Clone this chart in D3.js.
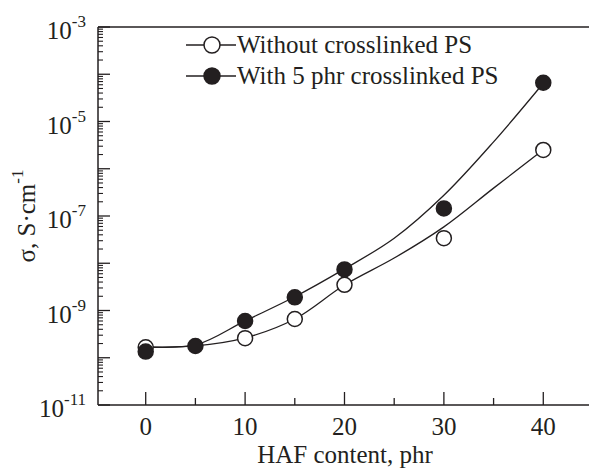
<!DOCTYPE html>
<html><head><meta charset="utf-8">
<script src="https://cdn.jsdelivr.net/npm/d3@7"></script>
<style>body{margin:0;background:#fff}svg{display:block}text{font-family:"Liberation Serif","Times New Roman",serif;fill:#231f20}</style>
</head><body><svg id="c" width="589" height="475"></svg>
<script>
// Data
const xWithout = [0, 10, 15, 20, 30, 40];
const yWithout = [1.66e-10, 2.6e-10, 6.6e-10, 3.5e-9, 3.4e-8, 2.5e-6];
const xWith = [0, 5, 10, 15, 20, 30, 40];
const yWith = [1.35e-10, 1.77e-10, 6.0e-10, 1.9e-9, 7.4e-9, 1.45e-7, 6.6e-5];
// fitted curves (log10 of sigma)
const fitX = [0, 5, 10, 15, 20, 25, 30, 35, 40];
const fitWithoutLog = [-9.77, -9.75, -9.58, -9.18, -8.46, -7.89, -7.23, -6.41, -5.60];
const fitWithLog = [-9.77, -9.73, -9.22, -8.71, -8.12, -7.47, -6.56, -5.43, -4.19];
const xTicks = [0, 10, 20, 30, 40];
const xMinor = [5, 15, 25, 35];
const yLabelExps = [-3, -5, -7, -9, -11];
const legendLabels = ["Without crosslinked PS", "With 5 phr crosslinked PS"];

const svg = d3.select("#c");
const x = d3.scaleLinear().domain([-4.8, 44.6]).range([98, 589]);
const y = d3.scaleLog().domain([1e-11, 1e-3]).range([405, 27]);
const ink = "#231f20";

// frame lines
svg.append("line").attr("x1",98).attr("x2",589).attr("y1",27).attr("y2",27).attr("stroke",ink).attr("stroke-width",1.5);
svg.append("line").attr("x1",98).attr("x2",589).attr("y1",405).attr("y2",405).attr("stroke",ink).attr("stroke-width",1.5);
svg.append("line").attr("x1",98).attr("x2",98).attr("y1",27).attr("y2",405).attr("stroke",ink).attr("stroke-width",1.5);

// y ticks
const yMajor = d3.range(-11, -2).map(e => Math.pow(10, e));
const yMinorVals = [];
for (let e = -11; e < -3; e++) for (let m = 2; m <= 9; m++) yMinorVals.push(m * Math.pow(10, e));
svg.append("g").selectAll("line").data(yMajor).join("line")
  .attr("x1",98).attr("x2",110).attr("y1",d=>y(d)).attr("y2",d=>y(d)).attr("stroke",ink).attr("stroke-width",1.3);
svg.append("g").selectAll("line").data(yMinorVals).join("line")
  .attr("x1",98).attr("x2",103).attr("y1",d=>y(d)).attr("y2",d=>y(d)).attr("stroke",ink).attr("stroke-width",1.1);

// y labels
const yl = svg.append("g").selectAll("text").data(yLabelExps).join("text")
  .attr("x",86).attr("y",d=>y(Math.pow(10,d))+12).attr("text-anchor","end").style("font-size","25px");
yl.append("tspan").text("10");
yl.append("tspan").attr("dy",-12).style("font-size","17px").text(d=>"-"+Math.abs(d));

// x ticks
svg.append("g").selectAll("line").data(xTicks).join("line")
  .attr("x1",d=>x(d)).attr("x2",d=>x(d)).attr("y1",405).attr("y2",392).attr("stroke",ink).attr("stroke-width",1.3);
svg.append("g").selectAll("line").data(xMinor).join("line")
  .attr("x1",d=>x(d)).attr("x2",d=>x(d)).attr("y1",405).attr("y2",398).attr("stroke",ink).attr("stroke-width",1.3);
svg.append("g").selectAll("text").data(xTicks).join("text")
  .attr("x",d=>x(d)).attr("y",435).attr("text-anchor","middle").style("font-size","25px").text(d=>d);

// axis titles
svg.append("text").attr("x",345).attr("y",463).attr("text-anchor","middle").style("font-size","25px").text("HAF content, phr");
const yt = svg.append("text").attr("transform","translate(35,216) rotate(-90)").attr("text-anchor","middle").style("font-size","25px");
yt.append("tspan").text("σ, S·cm");
yt.append("tspan").attr("dy",-12).style("font-size","17px").text("-1");

// fitted lines
const line = d3.line().x(d=>x(d[0])).y(d=>y(Math.pow(10,d[1]))).curve(d3.curveCatmullRom.alpha(0.5));
svg.append("path").attr("d", line(fitX.map((v,i)=>[v, fitWithoutLog[i]]))).attr("fill","none").attr("stroke",ink).attr("stroke-width",1.3);
svg.append("path").attr("d", line(fitX.map((v,i)=>[v, fitWithLog[i]]))).attr("fill","none").attr("stroke",ink).attr("stroke-width",1.3);

// markers
svg.append("g").selectAll("circle").data(xWithout.map((v,i)=>[v,yWithout[i]])).join("circle")
  .attr("cx",d=>x(d[0])).attr("cy",d=>y(d[1])).attr("r",7.5).attr("fill","#fff").attr("stroke",ink).attr("stroke-width",1.5);
svg.append("g").selectAll("circle").data(xWith.map((v,i)=>[v,yWith[i]])).join("circle")
  .attr("cx",d=>x(d[0])).attr("cy",d=>y(d[1])).attr("r",7.5).attr("fill",ink).attr("stroke",ink).attr("stroke-width",1.5);

// legend
const lg = svg.append("g");
legendLabels.forEach((t,i)=>{
  const cy = 45 + i*31;
  lg.append("line").attr("x1",186).attr("x2",236).attr("y1",cy).attr("y2",cy).attr("stroke",ink).attr("stroke-width",1.3);
  lg.append("circle").attr("cx",212).attr("cy",cy).attr("r",8).attr("fill", i===0?"#fff":ink).attr("stroke",ink).attr("stroke-width",1.5);
  lg.append("text").attr("x",237).attr("y",cy+8).style("font-size","25px").text(t);
});
</script></body></html>
